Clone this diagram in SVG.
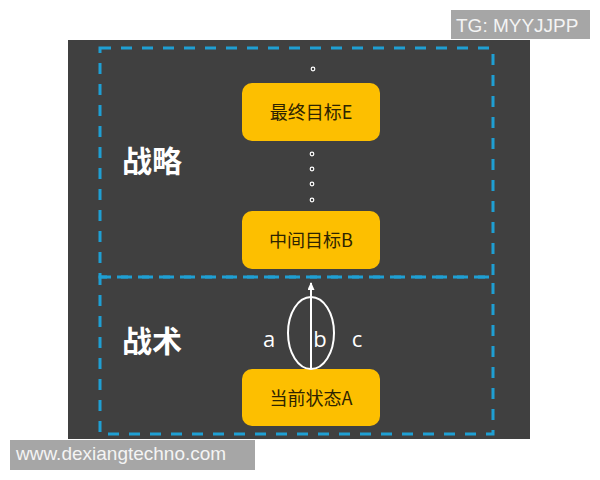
<svg xmlns="http://www.w3.org/2000/svg" width="600" height="480" viewBox="0 0 600 480">
<defs>
<style>
.dash{fill:none;stroke:#1f9fd3;stroke-width:3;stroke-dasharray:11 10}
.box{fill:#fdbf00}
.bt{font-family:"Noto Sans CJK SC","Liberation Sans",sans-serif;font-size:18px;fill:#2e2400;text-anchor:middle}
.big{font-family:"Noto Sans CJK SC",sans-serif;font-size:30px;font-weight:bold;fill:#ffffff}
.lbl{font-family:"Open Sans","Liberation Sans",sans-serif;font-size:22px;fill:#ffffff;text-anchor:middle}
.dot{fill:#404040;stroke:#ffffff;stroke-width:1.2}
.wm{fill:#a6a6a6}
.wt{font-family:"Liberation Sans",Arial,sans-serif;font-size:19px;fill:#f4f4f4}
</style>
<marker id="ah" markerWidth="8" markerHeight="7" refX="7" refY="3.5" orient="auto" markerUnits="userSpaceOnUse" viewBox="0 0 8 7">
<path d="M0,0 L8,3.5 L0,7 Z" fill="#ffffff"/>
</marker>
</defs>
<rect x="0" y="0" width="600" height="480" fill="#ffffff"/>
<rect x="68" y="40" width="462" height="399" fill="#404040"/>
<g id="regions">
<rect class="dash" x="100" y="48" width="393" height="229"/>
<rect class="dash" x="100" y="277" width="393" height="157"/>
<text class="big" x="122" y="172">战略</text>
<text class="big" x="122" y="352">战术</text>
</g>
<g id="node-E">
<rect class="box" x="242" y="83" width="138" height="58" rx="10"/>
<text class="bt" x="311" y="119">最终目标E</text>
</g>
<g id="node-B">
<rect class="box" x="242" y="211" width="138" height="58" rx="10"/>
<text class="bt" x="311" y="247">中间目标B</text>
</g>
<g id="node-A">
<rect class="box" x="242" y="369" width="138" height="57" rx="10"/>
<text class="bt" x="311" y="405">当前状态A</text>
</g>
<g id="connectors">
<circle class="dot" cx="313" cy="69" r="1.8"/>
<circle class="dot" cx="312" cy="154" r="1.8"/>
<circle class="dot" cx="312" cy="169" r="1.8"/>
<circle class="dot" cx="312" cy="184" r="1.8"/>
<circle class="dot" cx="312" cy="200" r="1.8"/>
<ellipse cx="311" cy="333" rx="23" ry="36" fill="none" stroke="#ffffff" stroke-width="2"/>
<line x1="311" y1="369" x2="311" y2="283" stroke="#ffffff" stroke-width="2" marker-end="url(#ah)"/>
<text class="lbl" x="269" y="347">a</text>
<text class="lbl" x="320" y="347">b</text>
<text class="lbl" x="357" y="347">c</text>
</g>
<g id="watermarks">
<rect class="wm" x="451" y="10" width="139" height="29"/>
<text class="wt" x="456" y="32">TG: MYYJJPP</text>
<rect class="wm" x="10" y="440" width="245" height="30"/>
<text class="wt" x="16" y="460">www.dexiangtechno.com</text>
</g>
</svg>
